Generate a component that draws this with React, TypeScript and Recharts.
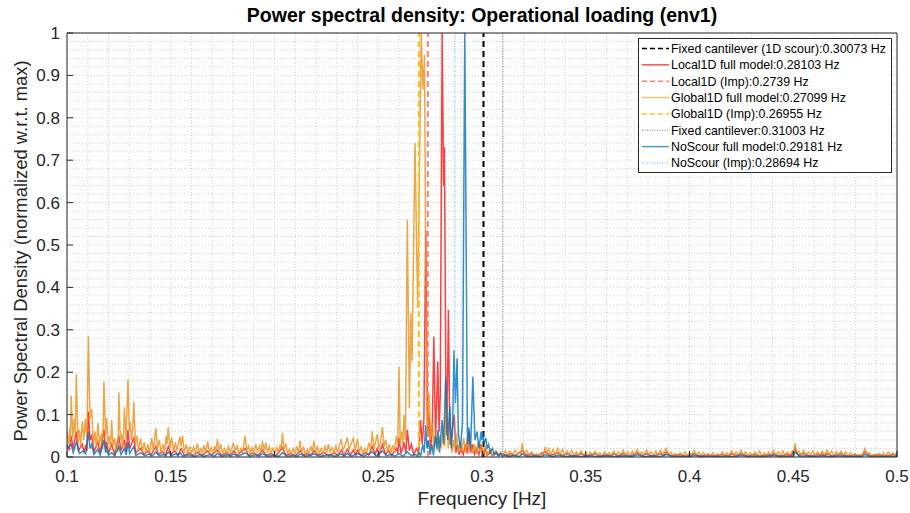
import React from 'react';
import { LineChart, Line, XAxis, YAxis, CartesianGrid, ReferenceLine } from 'recharts';

type Pt = [number, number];

const FONT = '"Liberation Sans", Arial, Helvetica, sans-serif';
const TEXT = '#262626';

const titleText = 'Power spectral density: Operational loading (env1)';
const xLabelText = 'Frequency [Hz]';
const yLabelText = 'Power Spectral Density (normalized w.r.t. max)';

const xMajorTicks = [0.1, 0.15, 0.2, 0.25, 0.3, 0.35, 0.4, 0.45, 0.5];
const yMajorTicks = [0, 0.1, 0.2, 0.3, 0.4, 0.5, 0.6, 0.7, 0.8, 0.9, 1];

// identified frequencies (Hz) drawn as vertical lines
const fixedCantilever1D = 0.30073;
const local1DImp = 0.2739;
const global1DImp = 0.26955;
const fixedCantilever = 0.31003;
const noScourImp = 0.28694;

// Global1D full model PSD (orange)
const globalFull: Pt[] = [
  [0.1000,0.060],[0.1008,0.030],[0.1014,0.070],[0.1017,0.040],[0.1020,0.145],[0.1028,0.045],[0.1035,0.090],[0.1040,0.055],[0.1045,0.195],[0.1053,0.035],
  [0.1060,0.065],[0.1066,0.025],[0.1074,0.085],[0.1081,0.040],[0.1088,0.090],[0.1096,0.045],[0.1103,0.285],[0.1111,0.090],[0.1119,0.113],[0.1127,0.030],
  [0.1135,0.060],[0.1142,0.020],[0.1149,0.080],[0.1157,0.030],[0.1165,0.055],[0.1172,0.020],[0.1178,0.178],[0.1186,0.050],[0.1191,0.092],[0.1198,0.030],
  [0.1205,0.050],[0.1210,0.020],[0.1215,0.087],[0.1222,0.025],[0.1230,0.045],[0.1237,0.015],[0.1243,0.030],[0.1246,0.012],[0.1250,0.152],[0.1257,0.040],
  [0.1263,0.055],[0.1270,0.020],[0.1277,0.117],[0.1284,0.040],[0.1294,0.183],[0.1300,0.060],[0.1305,0.083],[0.1311,0.040],[0.1316,0.060],[0.1322,0.130],
  [0.1330,0.030],[0.1337,0.050],[0.1344,0.015],[0.1355,0.044],[0.1363,0.012],[0.1372,0.035],[0.1380,0.010],[0.1390,0.030],[0.1398,0.008],[0.1408,0.045],
  [0.1416,0.015],[0.1428,0.068],[0.1436,0.020],[0.1445,0.040],[0.1453,0.010],[0.1462,0.030],[0.1470,0.012],[0.1478,0.050],[0.1482,0.030],[0.1488,0.070],
  [0.1496,0.020],[0.1505,0.046],[0.1513,0.012],[0.1522,0.035],[0.1530,0.015],[0.1544,0.048],[0.1550,0.025],[0.1557,0.050],[0.1565,0.010],[0.1575,0.030],
  [0.1583,0.008],[0.1592,0.025],[0.1600,0.008],[0.1610,0.024],[0.1618,0.010],[0.1628,0.032],[0.1636,0.012],[0.1645,0.020],[0.1652,0.006],[0.1660,0.028],
  [0.1668,0.010],[0.1678,0.036],[0.1686,0.012],[0.1695,0.022],[0.1703,0.008],[0.1712,0.026],[0.1718,0.010],[0.1725,0.042],[0.1733,0.015],[0.1742,0.030],
  [0.1750,0.008],[0.1760,0.020],[0.1768,0.006],[0.1778,0.025],[0.1786,0.010],[0.1795,0.022],[0.1802,0.034],[0.1810,0.012],[0.1820,0.028],[0.1828,0.008],
  [0.1838,0.020],[0.1846,0.010],[0.1858,0.050],[0.1866,0.015],[0.1875,0.026],[0.1883,0.008],[0.1892,0.022],[0.1900,0.010],[0.1910,0.030],[0.1918,0.012],
  [0.1928,0.026],[0.1935,0.010],[0.1942,0.038],[0.1950,0.015],[0.1958,0.034],[0.1966,0.010],[0.1975,0.025],[0.1983,0.008],[0.1992,0.020],[0.2000,0.008],
  [0.2010,0.022],[0.2018,0.010],[0.2028,0.030],[0.2033,0.015],[0.2038,0.057],[0.2046,0.020],[0.2055,0.030],[0.2063,0.008],[0.2072,0.018],[0.2080,0.006],
  [0.2090,0.020],[0.2098,0.008],[0.2108,0.025],[0.2115,0.010],[0.2123,0.038],[0.2131,0.012],[0.2140,0.022],[0.2148,0.006],[0.2158,0.018],[0.2166,0.008],
  [0.2175,0.026],[0.2182,0.012],[0.2190,0.038],[0.2198,0.010],[0.2207,0.024],[0.2215,0.008],[0.2225,0.020],[0.2233,0.006],[0.2243,0.025],[0.2251,0.010],
  [0.2260,0.030],[0.2268,0.012],[0.2278,0.022],[0.2286,0.008],[0.2296,0.026],[0.2304,0.010],[0.2314,0.030],[0.2322,0.042],[0.2330,0.015],[0.2340,0.028],
  [0.2351,0.046],[0.2359,0.015],[0.2368,0.030],[0.2380,0.044],[0.2388,0.014],[0.2400,0.042],[0.2408,0.012],[0.2418,0.024],[0.2426,0.008],[0.2436,0.020],
  [0.2444,0.010],[0.2455,0.034],[0.2463,0.015],[0.2471,0.060],[0.2479,0.020],[0.2487,0.035],[0.2495,0.054],[0.2503,0.018],[0.2512,0.040],[0.2520,0.071],
  [0.2528,0.025],[0.2536,0.040],[0.2544,0.012],[0.2553,0.030],[0.2561,0.010],[0.2570,0.028],[0.2578,0.012],[0.2588,0.050],[0.2594,0.030],[0.2600,0.213],
  [0.2606,0.032],[0.2614,0.060],[0.2619,0.030],[0.2624,0.099],[0.2631,0.040],[0.2640,0.560],[0.2650,0.115],[0.2657,0.339],[0.2663,0.225],[0.2677,0.740],
  [0.2690,0.350],[0.2707,1.000],[0.2715,0.866],[0.2723,0.948],[0.2733,0.120],[0.2738,0.050],[0.2745,0.150],[0.2752,0.040],[0.2760,0.080],[0.2768,0.020],
  [0.2778,0.060],[0.2785,0.015],[0.2795,0.050],[0.2803,0.020],[0.2812,0.060],[0.2820,0.025],[0.2829,0.150],[0.2837,0.020],[0.2846,0.060],[0.2855,0.010],
  [0.2863,0.040],[0.2870,0.015],[0.2878,0.055],[0.2886,0.010],[0.2895,0.035],[0.2903,0.012],[0.2912,0.045],[0.2920,0.010],[0.2930,0.045],[0.2938,0.015],
  [0.2948,0.030],[0.2956,0.008],[0.2965,0.030],[0.2973,0.010],[0.2983,0.035],[0.2991,0.012],[0.3000,0.030],[0.3008,0.008],[0.3018,0.025],[0.3026,0.006],
  [0.3040,0.018],[0.3050,0.004],[0.3065,0.015],[0.3078,0.004],[0.3090,0.012],[0.3100,0.003],[0.3113,0.015],[0.3123,0.005],[0.3135,0.014],[0.3145,0.004],
  [0.3160,0.016],[0.3170,0.006],[0.3180,0.012],[0.3188,0.006],[0.3194,0.032],[0.3202,0.008],[0.3215,0.016],[0.3225,0.004],[0.3240,0.012],[0.3250,0.002],
  [0.3262,0.008],[0.3272,0.002],[0.3285,0.010],[0.3295,0.004],[0.3305,0.024],[0.3312,0.010],[0.3322,0.020],[0.3330,0.006],[0.3343,0.018],[0.3353,0.005],
  [0.3365,0.020],[0.3375,0.006],[0.3388,0.018],[0.3398,0.004],[0.3410,0.014],[0.3420,0.005],[0.3432,0.016],[0.3442,0.004],[0.3455,0.012],[0.3465,0.003],
  [0.3478,0.014],[0.3488,0.004],[0.3500,0.010],[0.3510,0.002],[0.3522,0.012],[0.3532,0.004],[0.3545,0.014],[0.3555,0.004],[0.3568,0.010],[0.3578,0.002],
  [0.3590,0.012],[0.3600,0.004],[0.3613,0.010],[0.3623,0.003],[0.3635,0.014],[0.3645,0.004],[0.3658,0.012],[0.3668,0.003],[0.3680,0.016],[0.3690,0.004],
  [0.3702,0.012],[0.3712,0.003],[0.3725,0.014],[0.3735,0.005],[0.3748,0.018],[0.3758,0.006],[0.3770,0.012],[0.3780,0.004],[0.3793,0.016],[0.3803,0.006],
  [0.3815,0.012],[0.3825,0.004],[0.3838,0.014],[0.3848,0.004],[0.3860,0.016],[0.3870,0.006],[0.3888,0.020],[0.3898,0.006],[0.3910,0.012],[0.3920,0.003],
  [0.3932,0.008],[0.3942,0.002],[0.3955,0.010],[0.3965,0.003],[0.3978,0.012],[0.3988,0.004],[0.4000,0.010],[0.4010,0.003],[0.4022,0.016],[0.4032,0.005],
  [0.4045,0.012],[0.4055,0.004],[0.4068,0.010],[0.4078,0.002],[0.4090,0.008],[0.4100,0.002],[0.4113,0.010],[0.4123,0.003],[0.4135,0.008],[0.4145,0.002],
  [0.4158,0.012],[0.4168,0.004],[0.4180,0.010],[0.4190,0.003],[0.4203,0.014],[0.4213,0.004],[0.4225,0.012],[0.4235,0.004],[0.4248,0.016],[0.4258,0.005],
  [0.4270,0.012],[0.4280,0.003],[0.4293,0.010],[0.4303,0.003],[0.4315,0.012],[0.4325,0.004],[0.4338,0.014],[0.4348,0.004],[0.4360,0.010],[0.4370,0.003],
  [0.4383,0.012],[0.4393,0.004],[0.4405,0.016],[0.4415,0.004],[0.4428,0.012],[0.4438,0.004],[0.4450,0.014],[0.4460,0.005],[0.4472,0.012],[0.4482,0.004],
  [0.4495,0.014],[0.4503,0.006],[0.4509,0.032],[0.4517,0.008],[0.4528,0.014],[0.4538,0.004],[0.4550,0.016],[0.4560,0.004],[0.4573,0.012],[0.4583,0.004],
  [0.4595,0.014],[0.4605,0.004],[0.4618,0.012],[0.4628,0.004],[0.4640,0.014],[0.4650,0.005],[0.4663,0.016],[0.4673,0.006],[0.4685,0.014],[0.4695,0.004],
  [0.4708,0.012],[0.4718,0.004],[0.4730,0.014],[0.4740,0.004],[0.4753,0.012],[0.4763,0.003],[0.4775,0.010],[0.4785,0.003],[0.4798,0.008],[0.4808,0.002],
  [0.4820,0.006],[0.4830,0.002],[0.4846,0.020],[0.4856,0.006],[0.4868,0.010],[0.4878,0.002],[0.4890,0.006],[0.4900,0.002],[0.4913,0.008],[0.4923,0.002],
  [0.4935,0.010],[0.4945,0.003],[0.4958,0.012],[0.4968,0.004],[0.4980,0.010],[0.4990,0.003],[0.5000,0.012],
];

// Local1D full model PSD (red)
const localFull: Pt[] = [
  [0.1000,0.030],[0.1010,0.015],[0.1020,0.050],[0.1030,0.020],[0.1045,0.060],[0.1055,0.015],[0.1074,0.030],[0.1082,0.012],[0.1090,0.025],[0.1096,0.015],
  [0.1103,0.107],[0.1111,0.040],[0.1119,0.050],[0.1130,0.012],[0.1149,0.035],[0.1160,0.010],[0.1178,0.064],[0.1186,0.020],[0.1191,0.035],[0.1200,0.008],
  [0.1215,0.030],[0.1230,0.006],[0.1250,0.050],[0.1260,0.015],[0.1277,0.040],[0.1285,0.012],[0.1294,0.064],[0.1302,0.020],[0.1322,0.045],[0.1332,0.010],
  [0.1355,0.020],[0.1370,0.006],[0.1390,0.014],[0.1405,0.005],[0.1428,0.025],[0.1440,0.006],[0.1460,0.012],[0.1475,0.005],[0.1488,0.025],[0.1500,0.006],
  [0.1520,0.015],[0.1535,0.004],[0.1550,0.020],[0.1565,0.004],[0.1590,0.010],[0.1610,0.003],[0.1630,0.012],[0.1650,0.003],[0.1678,0.014],[0.1695,0.004],
  [0.1725,0.016],[0.1745,0.004],[0.1770,0.010],[0.1785,0.003],[0.1802,0.014],[0.1820,0.004],[0.1858,0.020],[0.1875,0.004],[0.1900,0.010],[0.1920,0.003],
  [0.1942,0.016],[0.1960,0.004],[0.1985,0.008],[0.2005,0.002],[0.2038,0.022],[0.2055,0.004],[0.2080,0.008],[0.2100,0.002],[0.2123,0.015],[0.2140,0.004],
  [0.2160,0.008],[0.2175,0.003],[0.2190,0.015],[0.2210,0.004],[0.2240,0.010],[0.2260,0.003],[0.2290,0.010],[0.2305,0.003],[0.2322,0.016],[0.2335,0.004],
  [0.2351,0.018],[0.2365,0.004],[0.2380,0.016],[0.2392,0.004],[0.2400,0.016],[0.2415,0.004],[0.2440,0.010],[0.2455,0.004],[0.2471,0.025],[0.2485,0.006],
  [0.2495,0.020],[0.2505,0.005],[0.2520,0.030],[0.2535,0.006],[0.2550,0.015],[0.2565,0.004],[0.2588,0.020],[0.2594,0.008],[0.2600,0.045],[0.2610,0.008],
  [0.2624,0.035],[0.2633,0.010],[0.2640,0.064],[0.2650,0.015],[0.2660,0.030],[0.2670,0.006],[0.2685,0.020],[0.2695,0.008],[0.2704,0.087],[0.2712,0.030],
  [0.2720,0.090],[0.2729,0.535],[0.2738,0.050],[0.2745,0.100],[0.2752,0.020],[0.2760,0.060],[0.2768,0.284],[0.2776,0.040],[0.2787,0.225],[0.2793,0.060],
  [0.2799,0.150],[0.2808,1.000],[0.2815,0.640],[0.2819,0.730],[0.2827,0.080],[0.2831,0.050],[0.2838,0.347],[0.2846,0.030],[0.2855,0.060],[0.2866,0.099],
  [0.2874,0.010],[0.2882,0.030],[0.2890,0.005],[0.2900,0.020],[0.2910,0.006],[0.2920,0.030],[0.2930,0.008],[0.2937,0.060],[0.2945,0.010],[0.2955,0.030],
  [0.2965,0.006],[0.2975,0.020],[0.2985,0.005],[0.2995,0.030],[0.3005,0.006],[0.3015,0.020],[0.3025,0.004],[0.3040,0.012],[0.3050,0.003],[0.3060,0.010],
  [0.3080,0.003],[0.3100,0.008],[0.3120,0.002],[0.3140,0.008],[0.3160,0.003],[0.3194,0.015],[0.3215,0.004],[0.3240,0.008],[0.3260,0.002],[0.3305,0.012],
  [0.3330,0.004],[0.3365,0.010],[0.3390,0.003],[0.3410,0.008],[0.3440,0.002],[0.3478,0.008],[0.3500,0.002],[0.3545,0.008],[0.3570,0.002],[0.3600,0.006],
  [0.3620,0.002],[0.3635,0.008],[0.3660,0.002],[0.3680,0.008],[0.3710,0.002],[0.3748,0.010],[0.3770,0.003],[0.3793,0.008],[0.3820,0.002],[0.3860,0.008],
  [0.3875,0.003],[0.3888,0.012],[0.3910,0.003],[0.3955,0.006],[0.3980,0.002],[0.4022,0.008],[0.4050,0.002],[0.4090,0.005],[0.4120,0.002],[0.4158,0.006],
  [0.4190,0.002],[0.4203,0.008],[0.4225,0.003],[0.4248,0.008],[0.4280,0.002],[0.4315,0.006],[0.4340,0.002],[0.4383,0.006],[0.4395,0.002],[0.4405,0.008],
  [0.4430,0.002],[0.4472,0.006],[0.4490,0.003],[0.4509,0.020],[0.4525,0.004],[0.4550,0.008],[0.4580,0.002],[0.4618,0.006],[0.4630,0.003],[0.4640,0.007],
  [0.4652,0.003],[0.4663,0.008],[0.4690,0.002],[0.4730,0.008],[0.4760,0.002],[0.4798,0.005],[0.4825,0.002],[0.4846,0.012],[0.4870,0.003],[0.4913,0.005],
  [0.4940,0.002],[0.4980,0.006],[0.5000,0.004],
];

// NoScour full model PSD (blue)
const noScourFull: Pt[] = [
  [0.1000,0.020],[0.1020,0.030],[0.1030,0.010],[0.1045,0.035],[0.1060,0.008],[0.1080,0.015],[0.1090,0.008],[0.1103,0.060],[0.1111,0.020],[0.1119,0.030],
  [0.1130,0.006],[0.1149,0.018],[0.1160,0.004],[0.1178,0.040],[0.1186,0.010],[0.1191,0.020],[0.1200,0.004],[0.1215,0.010],[0.1230,0.003],[0.1250,0.025],
  [0.1260,0.006],[0.1277,0.020],[0.1285,0.005],[0.1294,0.035],[0.1302,0.008],[0.1322,0.025],[0.1332,0.004],[0.1355,0.010],[0.1375,0.003],[0.1395,0.007],
  [0.1410,0.002],[0.1428,0.012],[0.1445,0.003],[0.1465,0.006],[0.1475,0.002],[0.1488,0.012],[0.1505,0.003],[0.1525,0.008],[0.1535,0.003],[0.1544,0.010],
  [0.1560,0.002],[0.1590,0.005],[0.1615,0.001],[0.1640,0.006],[0.1660,0.002],[0.1690,0.006],[0.1710,0.002],[0.1725,0.008],[0.1745,0.002],[0.1780,0.005],
  [0.1790,0.002],[0.1802,0.007],[0.1825,0.002],[0.1858,0.010],[0.1880,0.002],[0.1910,0.005],[0.1925,0.002],[0.1942,0.008],[0.1965,0.002],[0.2000,0.004],
  [0.2020,0.001],[0.2038,0.010],[0.2060,0.002],[0.2100,0.004],[0.2110,0.001],[0.2123,0.007],[0.2150,0.002],[0.2190,0.007],[0.2220,0.002],[0.2260,0.005],
  [0.2290,0.002],[0.2322,0.007],[0.2335,0.002],[0.2351,0.008],[0.2370,0.002],[0.2400,0.008],[0.2430,0.002],[0.2471,0.012],[0.2490,0.003],[0.2520,0.014],
  [0.2540,0.003],[0.2560,0.006],[0.2580,0.002],[0.2600,0.008],[0.2620,0.002],[0.2640,0.012],[0.2660,0.003],[0.2680,0.006],[0.2688,0.002],[0.2695,0.010],
  [0.2705,0.004],[0.2715,0.030],[0.2722,0.010],[0.2728,0.075],[0.2735,0.020],[0.2742,0.040],[0.2750,0.005],[0.2758,0.030],[0.2766,0.004],[0.2775,0.050],
  [0.2782,0.020],[0.2788,0.064],[0.2795,0.010],[0.2808,0.087],[0.2815,0.030],[0.2825,0.190],[0.2835,0.040],[0.2845,0.119],[0.2852,0.020],[0.2858,0.060],
  [0.2865,0.252],[0.2872,0.127],[0.2880,0.233],[0.2886,0.056],[0.2896,0.020],[0.2906,0.080],[0.2917,1.000],[0.2930,0.030],[0.2937,0.070],[0.2945,0.020],
  [0.2956,0.190],[0.2966,0.040],[0.2976,0.060],[0.2985,0.020],[0.2996,0.060],[0.2999,0.040],[0.3004,0.060],[0.3010,0.030],[0.3018,0.045],[0.3025,0.020],
  [0.3032,0.030],[0.3040,0.010],[0.3050,0.020],[0.3060,0.005],[0.3070,0.012],[0.3080,0.003],[0.3090,0.008],[0.3100,0.002],[0.3115,0.005],[0.3130,0.001],
  [0.3150,0.004],[0.3180,0.001],[0.3194,0.008],[0.3215,0.001],[0.3250,0.003],[0.3280,0.001],[0.3305,0.005],[0.3340,0.001],[0.3365,0.004],[0.3400,0.001],
  [0.3440,0.003],[0.3480,0.001],[0.3520,0.003],[0.3560,0.001],[0.3600,0.003],[0.3640,0.001],[0.3680,0.003],[0.3720,0.001],[0.3748,0.005],[0.3780,0.001],
  [0.3820,0.003],[0.3860,0.001],[0.3888,0.006],[0.3920,0.001],[0.3960,0.002],[0.4000,0.001],[0.4022,0.004],[0.4060,0.001],[0.4100,0.002],[0.4140,0.001],
  [0.4180,0.002],[0.4220,0.001],[0.4248,0.004],[0.4280,0.001],[0.4320,0.002],[0.4360,0.001],[0.4405,0.004],[0.4440,0.001],[0.4480,0.002],[0.4500,0.001],
  [0.4509,0.012],[0.4530,0.002],[0.4570,0.003],[0.4600,0.001],[0.4640,0.003],[0.4680,0.001],[0.4730,0.003],[0.4770,0.001],[0.4810,0.002],[0.4830,0.001],
  [0.4846,0.006],[0.4870,0.001],[0.4920,0.002],[0.4960,0.001],[0.5000,0.002],
];

const toRows = (pts: Pt[]) => pts.map(([f, v]) => ({ f, v }));
const globalData = toRows(globalFull);
const localData = toRows(localFull);
const noScourData = toRows(noScourFull);

// grid (minor) tick positions
const xGridTicks = Array.from({ length: 41 }, (_, i) => (10 + i) / 100);
const yGridTicks = Array.from({ length: 51 }, (_, i) => (i * 2) / 100);

const isMajor = (v: number, list: number[]) => list.some((t) => Math.abs(t - v) < 1e-9);
const fmt = (v: number) => String(Math.round(v * 100) / 100);

const COLORS = {
  local: '#FF0000',
  localImp: '#FF8080',
  global: '#E8901A',
  globalImp: '#F5C518',
  noScour: '#0072BD',
  noScourImp: '#4DBEEE',
  fixed1D: '#000000',
  fixed: '#7a7a7a',
};

const legendItems = [
  { label: 'Fixed cantilever (1D scour):0.30073 Hz', color: COLORS.fixed1D, dash: '5 3', width: 1.5, opacity: 1 },
  { label: 'Local1D full model:0.28103 Hz', color: COLORS.local, dash: undefined, width: 1.5, opacity: 0.7 },
  { label: 'Local1D (Imp):0.2739 Hz', color: COLORS.localImp, dash: '5 3', width: 1.5, opacity: 1 },
  { label: 'Global1D full model:0.27099 Hz', color: COLORS.global, dash: undefined, width: 1.5, opacity: 0.6 },
  { label: 'Global1D (Imp):0.26955 Hz', color: COLORS.globalImp, dash: '5 3', width: 1.5, opacity: 1 },
  { label: 'Fixed cantilever:0.31003 Hz', color: COLORS.fixed, dash: '1 1.5', width: 1, opacity: 1 },
  { label: 'NoScour full model:0.29181 Hz', color: COLORS.noScour, dash: undefined, width: 1.5, opacity: 0.7 },
  { label: 'NoScour (Imp):0.28694 Hz', color: COLORS.noScourImp, dash: '1 1.5', width: 1, opacity: 1 },
];

const XTick = (props: any) => {
  const { x, y, payload } = props;
  const v = payload.value as number;
  if (!isMajor(v, xMajorTicks)) return null;
  return (
    <g>
      <line x1={x} y1={y} x2={x} y2={y - 6} stroke={TEXT} strokeWidth={1} />
      <text x={x} y={y + 24.5} textAnchor="middle" fontFamily={FONT} fontSize={17} fill={TEXT}>
        {fmt(v)}
      </text>
    </g>
  );
};

const YTick = (props: any) => {
  const { x, y, payload } = props;
  const v = payload.value as number;
  if (!isMajor(v, yMajorTicks)) return null;
  return (
    <g>
      <line x1={x} y1={y} x2={x + 6} y2={y} stroke={TEXT} strokeWidth={1} />
      <text x={x - 7} y={y + 6} textAnchor="end" fontFamily={FONT} fontSize={17} fill={TEXT}>
        {fmt(v)}
      </text>
    </g>
  );
};

const LegendBox = () => {
  const left = 638;
  const top = 38;
  const w = 253;
  const h = 134;
  const rowH = 16.35;
  return (
    <svg
      width={w + 2}
      height={h + 2}
      style={{ position: 'absolute', left, top, pointerEvents: 'none' }}
    >
      <rect x={0.5} y={0.5} width={w} height={h} fill="#ffffff" stroke="#262626" strokeWidth={1} />
      {legendItems.map((it, i) => {
        const cy = 10.5 + i * rowH;
        return (
          <g key={it.label}>
            <line
              x1={4}
              x2={31}
              y1={cy}
              y2={cy}
              stroke={it.color}
              strokeWidth={it.width}
              strokeDasharray={it.dash}
              strokeOpacity={it.opacity}
            />
            <text x={33} y={cy + 4.4} fontFamily={FONT} fontSize={12.4} fill="#000000">
              {it.label}
            </text>
          </g>
        );
      })}
    </svg>
  );
};

export default function App() {
  const W = 910;
  const H = 513;
  return (
    <div style={{ position: 'absolute', left: 0, top: 0, width: W, height: H, background: '#ffffff' }}>
      <LineChart
        width={W}
        height={H}
        margin={{ top: 33, right: 13, bottom: 16, left: 17 }}
      >
        <CartesianGrid stroke="#cfcfcf" strokeDasharray="1 2" strokeWidth={1} />
        <XAxis
          type="number"
          dataKey="f"
          domain={[0.1, 0.5]}
          allowDataOverflow
          ticks={xGridTicks}
          interval={0}
          tick={<XTick />}
          tickLine={false}
          tickSize={0}
          tickMargin={0}
          height={40}
          axisLine={{ stroke: TEXT, strokeWidth: 1 }}
        />
        <YAxis
          type="number"
          domain={[0, 1]}
          allowDataOverflow
          ticks={yGridTicks}
          interval={0}
          tick={<YTick />}
          tickLine={false}
          tickSize={0}
          tickMargin={0}
          width={50}
          axisLine={{ stroke: TEXT, strokeWidth: 1 }}
        />
        <ReferenceLine x={fixedCantilever1D} stroke={COLORS.fixed1D} strokeWidth={2} strokeDasharray="6 4" />
        <Line
          data={localData}
          dataKey="v"
          type="linear"
          stroke={COLORS.local}
          strokeOpacity={0.75}
          strokeWidth={1.5}
          dot={false}
          isAnimationActive={false}
        />
        <ReferenceLine x={local1DImp} stroke={COLORS.localImp} strokeWidth={2} strokeDasharray="6 4" />
        <Line
          data={globalData}
          dataKey="v"
          type="linear"
          stroke={COLORS.global}
          strokeOpacity={0.8}
          strokeWidth={1.5}
          dot={false}
          isAnimationActive={false}
        />
        <ReferenceLine x={global1DImp} stroke={COLORS.globalImp} strokeWidth={2.2} strokeDasharray="6 4" />
        <ReferenceLine x={fixedCantilever} stroke={COLORS.fixed} strokeWidth={1} strokeDasharray="1 1.5" />
        <Line
          data={noScourData}
          dataKey="v"
          type="linear"
          stroke={COLORS.noScour}
          strokeOpacity={0.8}
          strokeWidth={1.5}
          dot={false}
          isAnimationActive={false}
        />
        <ReferenceLine x={noScourImp} stroke={COLORS.noScourImp} strokeWidth={1} strokeDasharray="1 1.5" />
        <ReferenceLine y={1} stroke={TEXT} strokeWidth={1} />
        <ReferenceLine x={0.5} stroke={TEXT} strokeWidth={1} />
      </LineChart>
      <svg
        width={W}
        height={H}
        style={{ position: 'absolute', left: 0, top: 0, pointerEvents: 'none' }}
      >
        <text x={482} y={22} textAnchor="middle" fontFamily={FONT} fontSize={19.5} fontWeight="bold" fill="#000000">
          {titleText}
        </text>
        <text x={482} y={505} textAnchor="middle" fontFamily={FONT} fontSize={19} fill={TEXT}>
          {xLabelText}
        </text>
        <text
          x={27}
          y={251}
          textAnchor="middle"
          fontFamily={FONT}
          fontSize={18.4}
          fill={TEXT}
          transform="rotate(-90 27 251)"
        >
          {yLabelText}
        </text>
      </svg>
      <LegendBox />
    </div>
  );
}
